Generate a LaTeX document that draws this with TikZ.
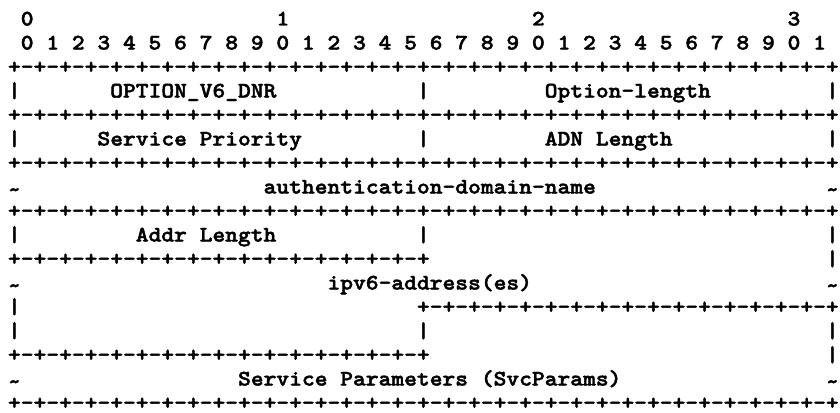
\documentclass[tikz,border=0pt]{standalone}
\usepackage{fontspec}
% heavy slab-serif typewriter face, widened to a 12.78pt character cell
\newfontfamily\codefont{lmmonolt10-bold.otf}[FakeStretch=1.1,FakeBold=2]
% building blocks of the packet-format borders
\newcommand\eightpairs{+-+-+-+-+-+-+-+-}
\newcommand\fullbar{\eightpairs\eightpairs\eightpairs\eightpairs+}
\newcommand\halfbar{\eightpairs\eightpairs+}
% continuation mark, set at mid height
\newcommand\cont{\raisebox{-3pt}{\textasciitilde}}
\begin{document}
\begin{tikzpicture}
\tikzset{
  ascii/.style={font=\codefont\fontsize{22.13}{24}\selectfont,
    inner sep=0pt, outer sep=0pt, anchor=base west, text=black}
}
\fill[white] (0pt,0pt) rectangle (840pt,-412pt);
\useasboundingbox (0pt,0pt) rectangle (840pt,-412pt);
\begin{scope}[shift={(8pt,-25.5pt)}, x=12.78pt, y=-24pt]
  % bit ruler
  \node[ascii] (tens0) at (1,0) {0};
  \node[ascii] (tens1) at (21,0) {1};
  \node[ascii] (tens2) at (41,0) {2};
  \node[ascii] (tens3) at (61,0) {3};
  \foreach \i in {0,...,31} {
    \pgfmathtruncatemacro\d{mod(\i,10)}
    \node[ascii] (bit\i) at (1+2*\i,1) {\d};
  }
  \node[ascii] (top) at (0,2) {\fullbar};
  % OPTION_V6_DNR / Option-length
  \node[ascii] (a0) at (0,3) {|};
  \node[ascii] (code) at (8,3) {OPTION\_V6\_DNR};
  \node[ascii] (a1) at (32,3) {|};
  \node[ascii] (optlen) at (42,3) {Option-length};
  \node[ascii] (a2) at (64,3) {|};
  \node[ascii] (bar1) at (0,4) {\fullbar};
  % Service Priority / ADN Length
  \node[ascii] (b0) at (0,5) {|};
  \node[ascii] (prio) at (7,5) {Service Priority};
  \node[ascii] (b1) at (32,5) {|};
  \node[ascii] (adnlen) at (42,5) {ADN Length};
  \node[ascii] (b2) at (64,5) {|};
  \node[ascii] (bar2) at (0,6) {\fullbar};
  % authentication-domain-name
  \node[ascii] (c0) at (0,7) {\cont};
  \node[ascii] (adn) at (20,7) {authentication-domain-name};
  \node[ascii] (c1) at (64,7) {\cont};
  \node[ascii] (bar3) at (0,8) {\fullbar};
  % Addr Length
  \node[ascii] (d0) at (0,9) {|};
  \node[ascii] (addrlen) at (10,9) {Addr Length};
  \node[ascii] (d1) at (32,9) {|};
  \node[ascii] (d2) at (64,9) {|};
  \node[ascii] (bar4) at (0,10) {\halfbar};
  \node[ascii] (e0) at (64,10) {|};
  % ipv6-address(es)
  \node[ascii] (f0) at (0,11) {\cont};
  \node[ascii] (addrs) at (25,11) {ipv6-address(es)};
  \node[ascii] (f1) at (64,11) {\cont};
  \node[ascii] (g0) at (0,12) {|};
  \node[ascii] (bar5) at (32,12) {\halfbar};
  \node[ascii] (h0) at (0,13) {|};
  \node[ascii] (h1) at (32,13) {|};
  \node[ascii] (h2) at (64,13) {|};
  \node[ascii] (bar6) at (0,14) {\halfbar};
  \node[ascii] (i0) at (64,14) {|};
  % Service Parameters
  \node[ascii] (j0) at (0,15) {\cont};
  \node[ascii] (svc) at (18,15) {Service Parameters (SvcParams)};
  \node[ascii] (j1) at (64,15) {\cont};
  \node[ascii] (bottom) at (0,16) {\fullbar};
\end{scope}
\end{tikzpicture}
\end{document}
